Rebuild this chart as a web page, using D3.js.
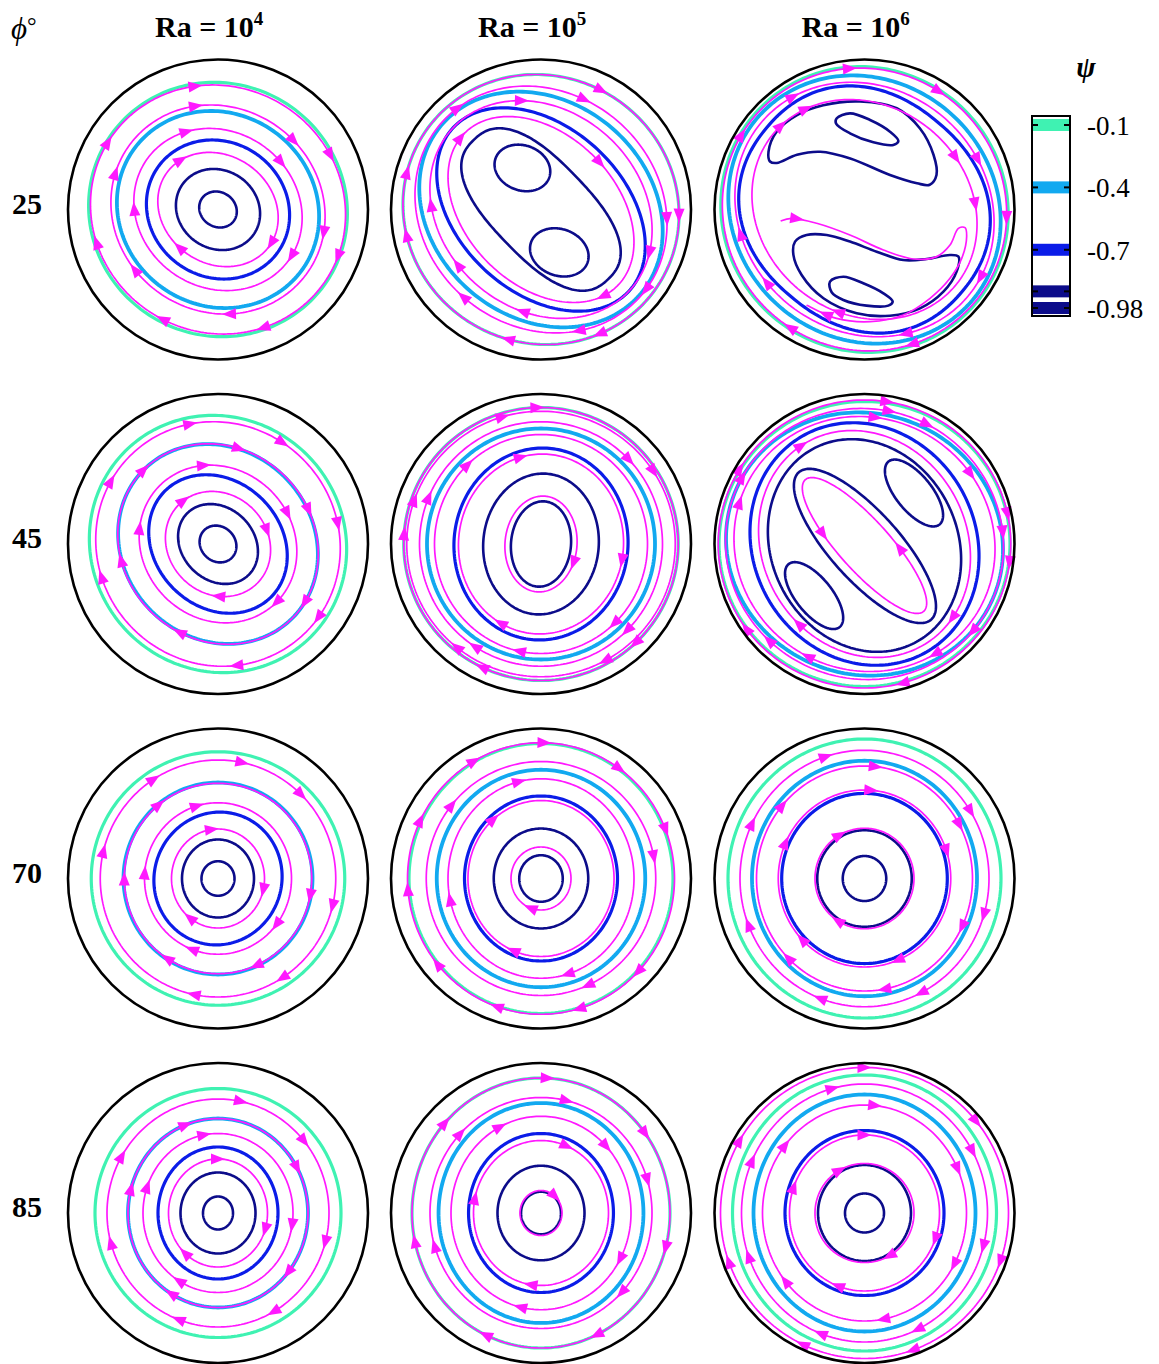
<!DOCTYPE html>
<html>
<head>
<meta charset="utf-8">
<script src="https://cdn.jsdelivr.net/npm/d3@7/dist/d3.min.js"></script>
<style>
  body { margin: 0; background: #fff; }
  text { font-family: "Liberation Serif", "Times New Roman", serif; }
</style>
</head>
<body>
<svg id="fig" width="1159" height="1364"></svg>
<script>
// streamfunction contours + streamlines, 4 inclinations x 3 Rayleigh numbers

var phiDeg = ['25', '45', '70', '85'];
var raExp = ['4', '5', '6'];
var psiLevels = [-0.1, -0.4, -0.7, -0.9, -0.98];
var psiTicks = [-0.1, -0.4, -0.7, -0.98];
var psiTickLabels = ['-0.1', '-0.4', '-0.7', '-0.98'];

// contours: [psi, cx, cy, a, b, rot(deg), superellipse n]
var psi25_4 = [[-0.98,0,0,0.13,0.115,35],[-0.9,0,0,0.29,0.26,35],[-0.7,0,0,0.49,0.45,35],[-0.4,0,0,0.69,0.64,35],[-0.1,0,0,0.87,0.84,30]];
var psi25_5 = [[-0.98,-0.124,-0.277,0.19,0.15,20],[-0.98,0.122,0.286,0.2,0.155,20],[-0.9,0,0,0.645,0.32,46,2.5],[-0.7,0,0,0.80,0.55,43],[-0.4,0,0,0.87,0.72,40],[-0.1,0,0,0.93,0.89,30]];
var psi25_6 = [[-0.7,0,0,0.85,0.76,40,2.2],[-0.4,0,0,0.94,0.86,40],[-0.1,0,0,0.97,0.94,40]];
var psi45_4 = [[-0.98,0,0,0.13,0.115,45],[-0.9,0,0,0.29,0.24,45],[-0.7,0,0,0.5,0.42,45],[-0.4,0,0,0.7,0.63,45],[-0.1,0,0,0.875,0.84,45]];
var psi45_5 = [[-0.98,0,0,0.2,0.285,5],[-0.9,0,0,0.385,0.47,5],[-0.7,0,0,0.58,0.64,5],[-0.4,0,0,0.76,0.77,0],[-0.1,0,0,0.915,0.91,0]];
var psi45_6 = [[-0.98,0.003,0.013,0.66,0.23,48],[-0.98,0.33,-0.34,0.27,0.12,51],[-0.98,-0.336,0.344,0.27,0.12,51],[-0.9,0,0.01,0.73,0.62,63],[-0.7,0,0,0.83,0.74,60],[-0.4,0,0,0.93,0.87,20],[-0.1,0,0,0.97,0.95,0]];
var psi70_4 = [[-0.98,0,0,0.11,0.115,0],[-0.9,0,0,0.24,0.26,0],[-0.7,0,0,0.425,0.445,20],[-0.4,0,0,0.63,0.64,0],[-0.1,0,0,0.845,0.845,0]];
var psi70_5 = [[-0.98,0,0,0.145,0.155,0],[-0.9,0,0,0.315,0.333,0],[-0.7,0,0,0.51,0.55,0],[-0.4,0,0,0.695,0.725,0],[-0.1,0,0,0.88,0.9,0]];
var psi70_6 = [[-0.98,0,0,0.145,0.15,0],[-0.9,0,0,0.315,0.322,0],[-0.7,0,0,0.552,0.567,0],[-0.4,0,0,0.75,0.785,0],[-0.1,0,0,0.91,0.93,0]];
var psi85_4 = [[-0.98,0,0,0.1,0.11,0],[-0.9,0,0,0.25,0.27,0],[-0.7,0,0,0.4,0.44,0],[-0.4,0,0,0.6,0.63,0],[-0.1,0,0,0.82,0.83,0]];
var psi85_5 = [[-0.98,0,0,0.133,0.142,0],[-0.9,0,0,0.29,0.315,0],[-0.7,0,0,0.483,0.53,0],[-0.4,0,0,0.683,0.733,0],[-0.1,0,0,0.86,0.9,0]];
var psi85_6 = [[-0.98,0,0,0.13,0.13,0],[-0.9,0,0,0.31,0.32,0],[-0.7,0,0,0.53,0.55,0],[-0.4,0,0,0.74,0.79,0],[-0.1,0,0,0.88,0.92,0]];

// streamlines: [cx, cy, a, b, rot, arrow polar angles (deg), direction]
var str25_4 = [[0,0,0.86,0.82,30,[259,335,21,69,117,165,211]],[0,0,0.73,0.68,35,[258,318,13,84,144,200]],[0,0,0.58,0.52,35,[248,324,32,180]],[0,0,0.42,0.36,35,[233,33,136]]];
var str25_5 = [[0,0,0.93,0.89,30,[3,65,104,169,195,297]],[0,0,0.88,0.78,40,[4,38,73,131,231,291]],[0,0,0.80,0.66,42,[260,22,101,147,183]],[0,0,0.72,0.50,45,[222,321,54]]];
var str25_6 = [[0,0,0.96,0.93,40,[264,302,4,71,122,211]],[0,0,0.90,0.81,40,[237,337,31,72,144,169]],[0,0,0.79,0.69,40,[240,331,358,105,225]]];
var str45_4 = [[0,0,0.83,0.8,45,[257,303,351,36,82,165,211]],[0,0,0.7,0.635,45,[225,282,340,34,114,171]],[0,0,0.55,0.5,45,[260,336,45,191]],[0,0,0.37,0.33,45,[232,344,90]]];
var str45_5 = [[0,0,0.915,0.91,0,[268,46,115,185]],[0,0,0.895,0.885,0,[253,327,61,130,200]],[0,0,0.81,0.815,0,[202,317,45,123]],[0,0,0.71,0.73,0,[227,48,101]],[0,0,0.55,0.6,5,[257,11,117]],[0,0,0.24,0.32,5,[31]]];
var str45_6 = [[0,0,0.975,0.96,0,[279,348,7,75,144,211]],[0,0,0.93,0.9,20,[281,298,355,39,134,208]],[0,0,0.88,0.84,30,[275,326,57,117,198]],[0,0,0.78,0.68,60,[238,40,130]],[0,0.01,0.59,0.17,48,[195,4],-1]];
var str70_4 = [[0,0,0.785,0.79,0,[282,315,13,57,102,193,237]],[0,0,0.625,0.635,0,[232,11,66,122,180]],[0,0,0.49,0.505,0,[254,39,111,184]],[0,0,0.31,0.33,0,[263,14,126]]];
var str70_5 = [[0,0,0.89,0.905,0,[272,306,338,44,74,109,141,176,206,240]],[0,0,0.765,0.78,0,[220,349,66]],[0,0,0.62,0.665,0,[257,75,167]],[0,0,0.487,0.52,0,[231,111]],[0,0,0.2,0.21,0,[110]]];
var str70_6 = [[0,0,0.83,0.855,0,[253,328,17,64,110,158,206]],[0,0,0.72,0.75,0,[276,330,26,80,134,222]],[0,0,0.575,0.59,0,[274,342,68,136,205]],[0,0,0.33,0.335,0,[240,122]]];
var str85_4 = [[0,0,0.74,0.76,0,[282,320,15,60,110,165,210]],[0,0,0.6,0.63,0,[250,330,40,120,195]],[0,0,0.5,0.53,0,[260,10,120,200]],[0,0,0.33,0.36,0,[270,20,130]]];
var str85_5 = [[0,0,0.86,0.9,0,[273,323,15,65,115,167,223]],[0,0,0.74,0.77,0,[283,343,44,163,224]],[0,0,0.6,0.645,0,[245,315,30,102]],[0,0,0.45,0.483,0,[291,193,99]],[0,0,0.14,0.15,0,[310]]];
var str85_6 = [[0,0,0.96,0.97,0,[270,320,20,70,115,160,210]],[0,0,0.82,0.86,0,[255,330,15,65,110,160,205]],[0,0,0.68,0.72,0,[275,335,30,80,140,220]],[0,0,0.5,0.52,0,[270,20,110,200]],[0,0,0.33,0.33,0,[240,60]]];

// phi = 25, Ra = 1e6: cells that are not ellipses
var cellUpper = [[-0.63,-0.32],[-0.64,-0.385],[-0.585,-0.52],[-0.45,-0.63],[-0.275,-0.695],[-0.03,-0.72],[0.215,-0.675],[0.37,-0.54],[0.46,-0.365],[0.48,-0.23],[0.435,-0.165],[0.35,-0.175],[0.17,-0.23],[-0.095,-0.34],[-0.295,-0.385],[-0.45,-0.365],[-0.585,-0.31]];
var cellUpperCore = [[-0.185,-0.608],[-0.097,-0.641],[0.037,-0.597],[0.17,-0.519],[0.226,-0.457],[0.192,-0.43],[0.059,-0.448],[-0.097,-0.508],[-0.19,-0.574]];
var cellLower = [[-0.463,0.214],[-0.386,0.17],[-0.252,0.17],[-0.097,0.214],[0.081,0.281],[0.259,0.337],[0.414,0.33],[0.57,0.303],[0.626,0.314],[0.614,0.414],[0.526,0.548],[0.37,0.659],[0.17,0.708],[-0.052,0.692],[-0.274,0.592],[-0.419,0.437],[-0.474,0.303]];
var cellLowerCore = [[-0.23,0.481],[-0.141,0.448],[-0.008,0.492],[0.126,0.559],[0.188,0.614],[0.159,0.641],[0.014,0.641],[-0.141,0.603],[-0.219,0.552]];
var sCurve = [[-0.559,0.077],[-0.486,0.059],[-0.319,0.092],[-0.097,0.17],[0.126,0.27],[0.326,0.33],[0.481,0.314],[0.57,0.237],[0.626,0.126],[0.67,0.121],[0.681,0.181],[0.648,0.326],[0.57,0.459],[0.437,0.592],[0.259,0.703],[0.037,0.748],[-0.186,0.726],[-0.386,0.637]];
var sCurveArrows = [0.04, 0.95];

var panels = [
  [psi25_4, str25_4], [psi25_5, str25_5], [psi25_6, str25_6],
  [psi45_4, str45_4], [psi45_5, str45_5], [psi45_6, str45_6],
  [psi70_4, str70_4], [psi70_5, str70_5], [psi70_6, str70_6],
  [psi85_4, str85_4], [psi85_5, str85_5], [psi85_6, str85_6]
];

var LEVEL_COLOR = { '-0.1': '#3ff2b2', '-0.4': '#12a9f0', '-0.7': '#0b1ce8', '-0.9': '#0c0c8a', '-0.98': '#0c0c8a' };
var LEVEL_WIDTH = { '-0.1': 3.2, '-0.4': 3.8, '-0.7': 3.2, '-0.9': 2.6, '-0.98': 2.6 };
var MAGENTA = '#ff19ff';

var R = 150;
var colX = [218, 541, 864.5];
var rowY = [209.5, 544, 878.5, 1213];

var svg = d3.select('#fig');

function ellipsePts(cx, cy, a, b, rot, n){
  var e = 2 / (n || 2), r = rot * Math.PI / 180, pts = [];
  for(var i = 0; i < 240; i++){
    var t = i / 240 * 2 * Math.PI;
    var c = Math.cos(t), s = Math.sin(t);
    var x = a * Math.sign(c) * Math.pow(Math.abs(c), e);
    var y = b * Math.sign(s) * Math.pow(Math.abs(s), e);
    pts.push([cx + x * Math.cos(r) - y * Math.sin(r), cy + x * Math.sin(r) + y * Math.cos(r)]);
  }
  return pts;
}

function arrowPath(px, py, dx, dy){
  var L = Math.sqrt(dx*dx + dy*dy) || 1;
  var ux = dx / L, uy = dy / L, len = 14, hw = 5.5;
  var tx = px + ux * len / 2, ty = py + uy * len / 2;
  var bx = px - ux * len / 2, by = py - uy * len / 2;
  return 'M' + tx + ',' + ty + 'L' + (bx - uy * hw) + ',' + (by + ux * hw) + 'L' + (bx + uy * hw) + ',' + (by - ux * hw) + 'Z';
}

function drawPanel(row, col, contours, streams){
  var cx = colX[col], cy = rowY[row];
  var x = d3.scaleLinear().domain([-1, 1]).range([cx - R, cx + R]);
  var y = d3.scaleLinear().domain([-1, 1]).range([cy - R, cy + R]);
  var g = svg.append('g');
  var closed = d3.line().x(function(d){ return x(d[0]); }).y(function(d){ return y(d[1]); }).curve(d3.curveLinearClosed);
  var smooth = d3.line().x(function(d){ return x(d[0]); }).y(function(d){ return y(d[1]); }).curve(d3.curveCatmullRomClosed);
  var open = d3.line().x(function(d){ return x(d[0]); }).y(function(d){ return y(d[1]); }).curve(d3.curveCatmullRom);

  // contours, outer first
  contours.forEach(function(c){
    g.append('path')
      .attr('d', closed(ellipsePts(c[1], c[2], c[3], c[4], c[5], c[6])))
      .attr('fill', 'none')
      .attr('stroke', LEVEL_COLOR[c[0]])
      .attr('stroke-width', LEVEL_WIDTH[c[0]]);
  });

  if(row === 0 && col === 2){
    [[cellUpper, -0.9], [cellUpperCore, -0.98], [cellLower, -0.9], [cellLowerCore, -0.98]].forEach(function(s){
      g.append('path').attr('d', smooth(s[0])).attr('fill', 'none')
        .attr('stroke', LEVEL_COLOR[s[1]]).attr('stroke-width', LEVEL_WIDTH[s[1]]);
    });
    var sp = g.append('path').attr('d', open(sCurve)).attr('fill', 'none')
      .attr('stroke', MAGENTA).attr('stroke-width', 1.7);
    var node = sp.node(), tot = node.getTotalLength();
    sCurveArrows.forEach(function(f){
      var p = node.getPointAtLength(f * tot);
      var p0 = node.getPointAtLength(Math.max(0, f * tot - 2));
      var p1 = node.getPointAtLength(Math.min(tot, f * tot + 2));
      g.append('path').attr('d', arrowPath(p.x, p.y, p1.x - p0.x, p1.y - p0.y)).attr('fill', MAGENTA);
    });
  }

  // streamlines with arrows
  streams.forEach(function(s){
    var pts = ellipsePts(s[0], s[1], s[2], s[3], s[4]);
    var dir = s[6] || 1;
    g.append('path').attr('d', closed(pts)).attr('fill', 'none')
      .attr('stroke', MAGENTA).attr('stroke-width', 1.7);
    s[5].forEach(function(ang){
      var best = 0, bestD = 1e9, n = pts.length;
      pts.forEach(function(p, i){
        var a = Math.atan2(p[1] - s[1], p[0] - s[0]) * 180 / Math.PI;
        var d = Math.abs(((a - ang) % 360 + 540) % 360 - 180);
        if(d < bestD){ bestD = d; best = i; }
      });
      var pa = pts[(best - 1 + n) % n], pb = pts[(best + 1) % n];
      var dx = (x(pb[0]) - x(pa[0])) * dir, dy = (y(pb[1]) - y(pa[1])) * dir;
      g.append('path').attr('d', arrowPath(x(pts[best][0]), y(pts[best][1]), dx, dy)).attr('fill', MAGENTA);
    });
  });

  g.append('circle').attr('cx', cx).attr('cy', cy).attr('r', R)
    .attr('fill', 'none').attr('stroke', '#000').attr('stroke-width', 2.6);
}

panels.forEach(function(p, i){ drawPanel(Math.floor(i / 3), i % 3, p[0], p[1]); });

// column headers
raExp.forEach(function(e, i){
  var t = svg.append('text').attr('x', colX[i] - 63).attr('y', 37)
    .attr('font-size', 30).attr('font-weight', 'bold');
  t.append('tspan').text('Ra = 10');
  t.append('tspan').attr('font-size', 19).attr('dy', -12).text(e);
});

// row labels
phiDeg.forEach(function(p, i){
  svg.append('text').attr('x', 27).attr('y', rowY[i] + 4).attr('text-anchor', 'middle')
    .attr('font-size', 30).attr('font-weight', 'bold').text(p);
});

var ph = svg.append('text').attr('x', 11).attr('y', 39).attr('font-size', 31);
ph.append('tspan').attr('font-style', 'italic').text('\u03d5');
ph.append('tspan').attr('font-size', 24).attr('dy', -5).text('\u00b0');

// legend
var ly = d3.scaleLinear().domain([-0.1, -0.98]).range([125, 308]);
var lg = svg.append('g');
lg.append('text').attr('x', 1086).attr('y', 77).attr('text-anchor', 'middle')
  .attr('font-size', 29).attr('font-weight', 'bold').attr('font-style', 'italic').text('\u03c8');
psiLevels.forEach(function(v){
  lg.append('rect').attr('x', 1032).attr('y', ly(v) - 6).attr('width', 38).attr('height', 12)
    .attr('fill', LEVEL_COLOR[v]);
  lg.append('line').attr('x1', 1032).attr('x2', 1038).attr('y1', ly(v)).attr('y2', ly(v)).attr('stroke', '#000').attr('stroke-width', 2);
  lg.append('line').attr('x1', 1064).attr('x2', 1070).attr('y1', ly(v)).attr('y2', ly(v)).attr('stroke', '#000').attr('stroke-width', 2);
});
lg.append('rect').attr('x', 1032).attr('y', 116).attr('width', 38).attr('height', 200)
  .attr('fill', 'none').attr('stroke', '#000').attr('stroke-width', 2);
psiTicks.forEach(function(v, i){
  lg.append('text').attr('x', 1087).attr('y', ly(v) + 10).attr('font-size', 27).text(psiTickLabels[i]);
});
</script>
</body>
</html>
